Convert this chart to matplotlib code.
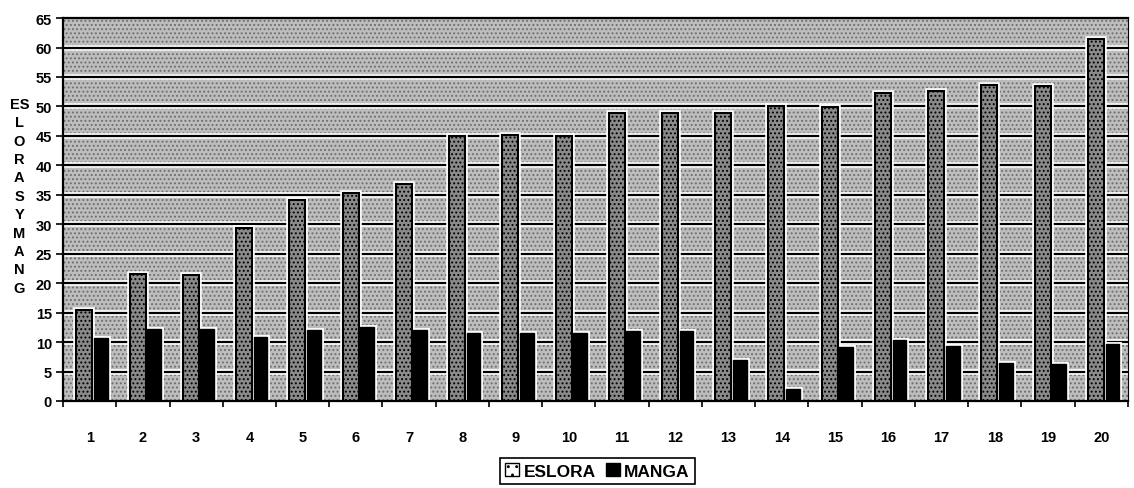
import matplotlib
matplotlib.use("Agg")
import matplotlib.pyplot as plt
from matplotlib.patches import Rectangle, Patch
import numpy as np

categories = [str(i) for i in range(1, 21)]
eslora = [15.4, 21.5, 21.3, 29.3, 34.1, 35.3, 36.9, 45.0, 45.1, 45.0,
          48.8, 48.8, 48.8, 50.0, 49.9, 52.2, 52.7, 53.6, 53.5, 61.4]
manga = [10.7, 12.3, 12.2, 10.8, 12.1, 12.6, 12.0, 11.5, 11.5, 11.6,
         11.9, 11.9, 6.9, 2.1, 9.1, 10.3, 9.3, 6.5, 6.2, 9.6]
yticks = list(range(0, 70, 5))
ylabel_text = "ES\nL\nO\nR\nA\nS\nY\nM\nA\nN\nG"

plt.rcParams['font.family'] = ['Liberation Sans', 'DejaVu Sans']
plt.rcParams['hatch.linewidth'] = 0.9

fig = plt.figure(figsize=(11.34, 4.89), dpi=100)
ax = fig.add_axes([0.0556, 0.178, 0.939, 0.783])
ax.set_xlim(-0.5, len(categories) - 0.5)
ax.set_ylim(0, 65)
ax.set_facecolor('white')

# textured background bands
for y0 in yticks[:-1]:
    ax.add_patch(Rectangle((-0.5, y0), len(categories), 5, facecolor='#bdbdbd',
                           edgecolor='#6e6e6e', hatch='....', linewidth=0, zorder=0.3))
for y in yticks[1:-1]:
    ax.axhline(y, color='white', lw=4.0, zorder=0.6)
    ax.axhline(y, color='black', lw=1.6, zorder=0.7)

x = np.arange(len(categories))
we, wm = 0.30, 0.26
xe, xm = x - 0.10, x + 0.21

# white outlines
ax.bar(xe, eslora, width=we, color='white', edgecolor='white', lw=4.0, zorder=2)
ax.bar(xm, manga, width=wm, color='white', edgecolor='white', lw=3.5, zorder=2)
# bars
ax.bar(xe, eslora, width=we, facecolor='#8a8a8a', edgecolor='black', hatch='....',
       lw=1.5, zorder=3)
ax.bar(xm, manga, width=wm, facecolor='black', edgecolor='black', lw=1.0, zorder=3)

for s in ['left', 'bottom', 'top']:
    ax.spines[s].set_linewidth(1.6)
    ax.spines[s].set_zorder(5)
ax.spines['right'].set_linewidth(0.8)

ax.set_yticks(yticks)
ax.set_yticklabels([str(v) for v in yticks], fontsize=10.5, fontweight='bold')
ax.tick_params(axis='y', direction='out', length=5, width=1.2, pad=3)

ax.set_xticks(x)
ax.set_xticklabels(categories, fontsize=10.5, fontweight='bold')
ax.set_xticks(np.arange(-0.5, len(categories), 1.0), minor=True)
ax.tick_params(axis='x', which='major', length=0, pad=21)
ax.tick_params(axis='x', which='minor', direction='out', length=4, width=1.2)

fig.text(0.017, 0.80, ylabel_text, ha='center', va='top', fontsize=10.5,
         fontweight='bold', linespacing=1.4)

handles = [Patch(facecolor='white', edgecolor='black', hatch='..', lw=1.0),
           Patch(facecolor='black', edgecolor='black')]
leg = fig.legend(handles, ['ESLORA', 'MANGA'], loc='center',
                 bbox_to_anchor=(0.527, 0.035), ncol=2, frameon=True,
                 fancybox=False, edgecolor='black', framealpha=1,
                 prop={'size': 12.5, 'weight': 'bold'}, handlelength=0.8,
                 handleheight=0.8, handletextpad=0.25, columnspacing=0.6,
                 borderpad=0.3, borderaxespad=0)
leg.get_frame().set_linewidth(1.2)

fig.savefig('out.png', dpi=100)
